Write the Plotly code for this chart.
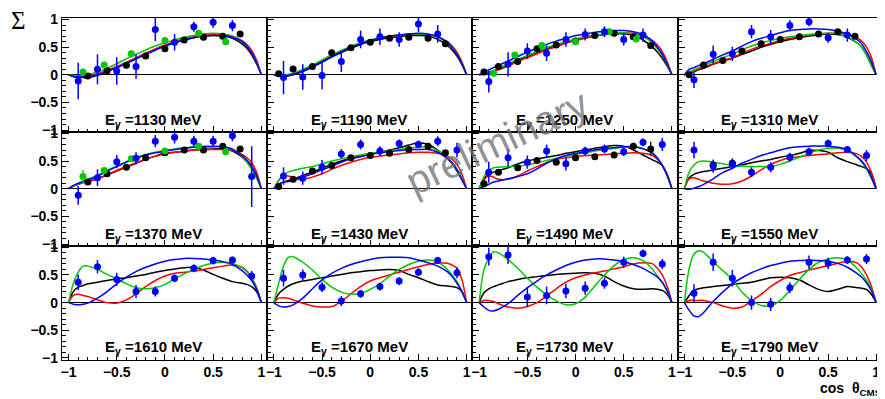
import plotly.graph_objects as go

# ---------------- data ----------------
ENERGIES = [1130, 1190, 1250, 1310, 1370, 1430, 1490, 1550, 1610, 1670, 1730, 1790]

# model curves sampled on a common cos(theta) grid
XC = [-1, -0.95, -0.9, -0.85, -0.8, -0.7, -0.6, -0.5, -0.4, -0.3, -0.2, -0.1, 0,
      0.1, 0.2, 0.3, 0.4, 0.5, 0.6, 0.7, 0.8, 0.85, 0.9, 0.95, 1.0]

CURVE_BLACK = [
    [0, -0.03, -0.05, -0.05, -0.05, -0.01, 0.06, 0.13, 0.21, 0.29, 0.37, 0.45, 0.52, 0.58, 0.63, 0.67, 0.70, 0.71, 0.70, 0.66, 0.56, 0.48, 0.36, 0.20, 0],
    [0, -0.02, -0.03, -0.02, 0.00, 0.06, 0.14, 0.23, 0.32, 0.40, 0.48, 0.55, 0.60, 0.64, 0.67, 0.69, 0.71, 0.71, 0.70, 0.64, 0.53, 0.45, 0.34, 0.19, 0],
    [0, 0.02, 0.04, 0.07, 0.10, 0.18, 0.26, 0.33, 0.40, 0.47, 0.53, 0.58, 0.63, 0.67, 0.70, 0.73, 0.74, 0.74, 0.72, 0.63, 0.50, 0.41, 0.30, 0.16, 0],
    [0, 0.03, 0.06, 0.09, 0.12, 0.19, 0.25, 0.30, 0.37, 0.43, 0.50, 0.55, 0.60, 0.64, 0.67, 0.70, 0.72, 0.74, 0.73, 0.68, 0.58, 0.50, 0.36, 0.18, 0],
    [0, 0.05, 0.08, 0.11, 0.13, 0.18, 0.25, 0.32, 0.39, 0.46, 0.53, 0.59, 0.64, 0.66, 0.68, 0.70, 0.71, 0.72, 0.72, 0.68, 0.57, 0.49, 0.38, 0.22, 0],
    [0, 0.08, 0.12, 0.15, 0.17, 0.24, 0.30, 0.37, 0.44, 0.50, 0.55, 0.59, 0.63, 0.66, 0.70, 0.74, 0.79, 0.83, 0.80, 0.70, 0.55, 0.45, 0.32, 0.16, 0],
    [0, 0.18, 0.26, 0.30, 0.33, 0.38, 0.45, 0.50, 0.54, 0.57, 0.60, 0.64, 0.67, 0.70, 0.73, 0.76, 0.78, 0.77, 0.70, 0.61, 0.52, 0.48, 0.42, 0.25, 0],
    [0, 0.20, 0.26, 0.29, 0.31, 0.34, 0.37, 0.40, 0.43, 0.47, 0.50, 0.53, 0.57, 0.60, 0.64, 0.69, 0.69, 0.66, 0.56, 0.49, 0.43, 0.40, 0.36, 0.28, 0],
    [0, 0.20, 0.28, 0.31, 0.34, 0.37, 0.40, 0.43, 0.45, 0.48, 0.51, 0.55, 0.58, 0.61, 0.63, 0.64, 0.59, 0.51, 0.44, 0.38, 0.35, 0.33, 0.29, 0.20, 0],
    [0, 0.16, 0.24, 0.30, 0.34, 0.39, 0.42, 0.45, 0.48, 0.51, 0.54, 0.56, 0.58, 0.59, 0.60, 0.58, 0.51, 0.45, 0.38, 0.32, 0.30, 0.29, 0.27, 0.20, 0],
    [0, 0.18, 0.25, 0.29, 0.32, 0.38, 0.42, 0.45, 0.47, 0.49, 0.51, 0.52, 0.53, 0.54, 0.53, 0.48, 0.38, 0.30, 0.25, 0.24, 0.25, 0.24, 0.22, 0.15, 0],
    [0, 0.13, 0.22, 0.25, 0.27, 0.29, 0.31, 0.33, 0.35, 0.37, 0.41, 0.45, 0.46, 0.45, 0.41, 0.32, 0.24, 0.20, 0.24, 0.29, 0.27, 0.26, 0.24, 0.15, 0],
]
CURVE_RED = [
    [0, -0.02, -0.03, -0.03, -0.02, 0.02, 0.08, 0.15, 0.23, 0.31, 0.39, 0.47, 0.54, 0.60, 0.65, 0.69, 0.72, 0.73, 0.73, 0.70, 0.62, 0.55, 0.44, 0.27, 0],
    [0, -0.01, -0.02, 0.00, 0.02, 0.08, 0.16, 0.25, 0.34, 0.42, 0.50, 0.57, 0.62, 0.66, 0.69, 0.71, 0.73, 0.74, 0.73, 0.69, 0.60, 0.52, 0.41, 0.24, 0],
    [0, 0.01, 0.03, 0.06, 0.09, 0.16, 0.24, 0.31, 0.38, 0.45, 0.51, 0.57, 0.62, 0.66, 0.70, 0.73, 0.75, 0.76, 0.75, 0.71, 0.62, 0.54, 0.42, 0.24, 0],
    [0, 0.04, 0.07, 0.11, 0.14, 0.20, 0.26, 0.31, 0.39, 0.46, 0.52, 0.57, 0.62, 0.66, 0.69, 0.72, 0.74, 0.75, 0.75, 0.74, 0.67, 0.61, 0.50, 0.32, 0],
    [0, 0.05, 0.08, 0.11, 0.13, 0.18, 0.25, 0.33, 0.40, 0.47, 0.53, 0.59, 0.63, 0.66, 0.68, 0.70, 0.71, 0.71, 0.71, 0.69, 0.62, 0.56, 0.47, 0.30, 0],
    [0, 0.15, 0.23, 0.23, 0.20, 0.17, 0.21, 0.27, 0.35, 0.42, 0.48, 0.53, 0.57, 0.59, 0.61, 0.63, 0.65, 0.66, 0.66, 0.64, 0.59, 0.53, 0.44, 0.27, 0],
    [0, 0.16, 0.23, 0.21, 0.17, 0.17, 0.23, 0.32, 0.40, 0.47, 0.53, 0.56, 0.58, 0.60, 0.61, 0.62, 0.63, 0.64, 0.65, 0.64, 0.60, 0.53, 0.43, 0.27, 0],
    [0, 0.18, 0.20, 0.17, 0.14, 0.10, 0.08, 0.09, 0.14, 0.23, 0.34, 0.44, 0.51, 0.56, 0.58, 0.60, 0.62, 0.63, 0.65, 0.66, 0.63, 0.58, 0.48, 0.30, 0],
    [0, 0.13, 0.15, 0.13, 0.11, 0.05, 0.00, -0.01, 0.05, 0.16, 0.29, 0.40, 0.48, 0.53, 0.55, 0.57, 0.60, 0.63, 0.66, 0.68, 0.64, 0.57, 0.45, 0.28, 0],
    [0, 0.08, 0.09, 0.08, 0.05, -0.01, -0.06, -0.08, -0.07, 0.02, 0.16, 0.29, 0.39, 0.45, 0.50, 0.55, 0.60, 0.65, 0.69, 0.72, 0.71, 0.68, 0.62, 0.42, 0],
    [0, 0.04, 0.04, 0.02, -0.02, -0.08, -0.10, -0.07, 0.00, 0.12, 0.25, 0.37, 0.45, 0.50, 0.54, 0.57, 0.61, 0.65, 0.70, 0.72, 0.70, 0.62, 0.50, 0.30, 0],
    [0, 0.04, 0.04, 0.04, 0.04, 0.00, -0.06, -0.10, -0.08, 0.03, 0.15, 0.29, 0.40, 0.49, 0.54, 0.59, 0.63, 0.67, 0.71, 0.75, 0.72, 0.64, 0.50, 0.30, 0],
]
CURVE_GREEN = [
    [0, -0.01, -0.02, -0.01, 0.00, 0.05, 0.12, 0.20, 0.29, 0.37, 0.45, 0.52, 0.58, 0.63, 0.68, 0.71, 0.74, 0.75, 0.74, 0.70, 0.60, 0.52, 0.40, 0.23, 0],
    [0, -0.01, -0.01, 0.01, 0.03, 0.10, 0.18, 0.27, 0.36, 0.44, 0.52, 0.58, 0.63, 0.67, 0.70, 0.72, 0.74, 0.74, 0.73, 0.68, 0.58, 0.50, 0.38, 0.22, 0],
    [0, 0.02, 0.05, 0.08, 0.12, 0.20, 0.28, 0.35, 0.42, 0.49, 0.55, 0.60, 0.65, 0.69, 0.72, 0.74, 0.76, 0.76, 0.74, 0.69, 0.57, 0.47, 0.35, 0.19, 0],
    [0, 0.05, 0.09, 0.13, 0.17, 0.24, 0.31, 0.37, 0.45, 0.52, 0.58, 0.62, 0.66, 0.69, 0.71, 0.73, 0.74, 0.75, 0.74, 0.69, 0.58, 0.50, 0.36, 0.18, 0],
    [0, 0.05, 0.09, 0.13, 0.17, 0.24, 0.33, 0.41, 0.49, 0.56, 0.62, 0.66, 0.69, 0.72, 0.74, 0.76, 0.77, 0.77, 0.76, 0.72, 0.58, 0.48, 0.35, 0.19, 0],
    [0, 0.15, 0.25, 0.30, 0.33, 0.37, 0.40, 0.45, 0.50, 0.54, 0.58, 0.61, 0.64, 0.66, 0.69, 0.71, 0.74, 0.75, 0.76, 0.69, 0.55, 0.46, 0.34, 0.18, 0],
    [0, 0.22, 0.33, 0.38, 0.39, 0.40, 0.41, 0.43, 0.47, 0.51, 0.55, 0.59, 0.62, 0.65, 0.68, 0.71, 0.73, 0.75, 0.76, 0.73, 0.65, 0.56, 0.42, 0.24, 0],
    [0, 0.30, 0.43, 0.49, 0.50, 0.48, 0.45, 0.42, 0.41, 0.40, 0.40, 0.40, 0.44, 0.50, 0.57, 0.64, 0.70, 0.73, 0.73, 0.69, 0.57, 0.48, 0.36, 0.19, 0],
    [0, 0.35, 0.55, 0.66, 0.66, 0.60, 0.51, 0.43, 0.34, 0.27, 0.25, 0.27, 0.33, 0.43, 0.52, 0.60, 0.67, 0.71, 0.73, 0.71, 0.63, 0.56, 0.44, 0.26, 0],
    [0, 0.35, 0.66, 0.82, 0.83, 0.73, 0.59, 0.42, 0.28, 0.19, 0.15, 0.17, 0.24, 0.34, 0.48, 0.60, 0.69, 0.75, 0.77, 0.74, 0.60, 0.50, 0.38, 0.21, 0],
    [0, 0.60, 0.80, 0.92, 0.90, 0.78, 0.62, 0.44, 0.28, 0.14, 0.03, -0.04, -0.02, 0.10, 0.30, 0.50, 0.67, 0.78, 0.81, 0.76, 0.60, 0.48, 0.36, 0.20, 0],
    [0, 0.62, 0.88, 0.94, 0.91, 0.74, 0.58, 0.42, 0.19, 0.04, -0.05, -0.06, 0.04, 0.22, 0.42, 0.60, 0.73, 0.79, 0.81, 0.77, 0.62, 0.52, 0.40, 0.25, 0],
]
CURVE_BLUE = [
    [0, -0.03, -0.04, -0.04, -0.03, 0.00, 0.06, 0.13, 0.21, 0.29, 0.37, 0.45, 0.52, 0.58, 0.63, 0.67, 0.70, 0.71, 0.71, 0.68, 0.60, 0.52, 0.40, 0.22, 0],
    [0, -0.02, -0.02, -0.01, 0.01, 0.07, 0.15, 0.24, 0.33, 0.42, 0.50, 0.56, 0.62, 0.66, 0.70, 0.72, 0.74, 0.75, 0.74, 0.69, 0.58, 0.49, 0.37, 0.21, 0],
    [0, 0.05, 0.09, 0.13, 0.17, 0.25, 0.33, 0.41, 0.48, 0.55, 0.61, 0.66, 0.71, 0.74, 0.77, 0.79, 0.80, 0.80, 0.78, 0.73, 0.60, 0.50, 0.37, 0.20, 0],
    [0, 0.10, 0.13, 0.17, 0.20, 0.28, 0.36, 0.43, 0.52, 0.60, 0.66, 0.71, 0.76, 0.80, 0.82, 0.83, 0.83, 0.82, 0.79, 0.74, 0.64, 0.56, 0.42, 0.24, 0],
    [0, 0.06, 0.10, 0.13, 0.16, 0.23, 0.32, 0.40, 0.48, 0.55, 0.61, 0.65, 0.68, 0.71, 0.73, 0.75, 0.76, 0.76, 0.76, 0.71, 0.60, 0.52, 0.41, 0.24, 0],
    [0, 0.08, 0.12, 0.13, 0.15, 0.21, 0.27, 0.34, 0.41, 0.48, 0.54, 0.58, 0.62, 0.65, 0.67, 0.69, 0.71, 0.71, 0.71, 0.66, 0.55, 0.47, 0.35, 0.18, 0],
    [0, 0.04, 0.08, 0.12, 0.14, 0.18, 0.22, 0.27, 0.36, 0.46, 0.54, 0.60, 0.64, 0.67, 0.70, 0.73, 0.74, 0.76, 0.76, 0.72, 0.64, 0.55, 0.42, 0.24, 0],
    [0, -0.01, 0.01, 0.04, 0.08, 0.18, 0.29, 0.37, 0.46, 0.53, 0.60, 0.65, 0.70, 0.74, 0.76, 0.77, 0.77, 0.77, 0.75, 0.71, 0.58, 0.50, 0.38, 0.21, 0],
    [0, -0.03, -0.04, -0.03, -0.01, 0.08, 0.20, 0.34, 0.46, 0.56, 0.64, 0.70, 0.75, 0.78, 0.80, 0.80, 0.79, 0.77, 0.74, 0.69, 0.58, 0.50, 0.40, 0.24, 0],
    [0, -0.06, -0.08, -0.07, -0.04, 0.08, 0.25, 0.41, 0.53, 0.62, 0.69, 0.74, 0.78, 0.81, 0.82, 0.82, 0.81, 0.77, 0.72, 0.66, 0.56, 0.47, 0.35, 0.20, 0],
    [0, -0.08, -0.14, -0.15, -0.12, -0.02, 0.13, 0.27, 0.39, 0.50, 0.59, 0.67, 0.73, 0.77, 0.79, 0.79, 0.77, 0.74, 0.69, 0.62, 0.52, 0.46, 0.37, 0.22, 0],
    [0, -0.14, -0.24, -0.25, -0.18, 0.02, 0.19, 0.34, 0.45, 0.54, 0.61, 0.67, 0.71, 0.75, 0.76, 0.77, 0.76, 0.75, 0.71, 0.64, 0.53, 0.46, 0.36, 0.22, 0],
]

# measured points (blue, with errors)
BX9 = [-0.9, -0.7, -0.5, -0.3, -0.1, 0.1, 0.3, 0.5, 0.7]
BX10 = [-0.9, -0.7, -0.5, -0.3, -0.1, 0.1, 0.3, 0.5, 0.7, 0.9]
BLUE_X = [BX9, BX9, BX9, BX9] + [BX10] * 8
BLUE_Y = [
    [-0.11, 0.10, 0.07, 0.15, 0.82, 0.59, 0.87, 0.95, 0.89],
    [-0.05, -0.04, -0.01, 0.24, 0.64, 0.69, 0.64, 0.92, 0.74],
    [-0.12, 0.19, 0.43, 0.39, 0.64, 0.73, 0.78, 0.64, 0.72],
    [-0.09, 0.37, 0.38, 0.78, 0.69, 0.89, 0.96, 0.67, 0.72],
    [-0.12, 0.20, 0.49, 0.55, 0.86, 0.93, 0.86, 0.86, 0.96, 0.22],
    [0.23, 0.19, 0.39, 0.63, 0.80, 0.68, 0.82, 0.80, 0.86, 0.70],
    [0.30, 0.56, 0.48, 0.68, 0.45, 0.68, 0.72, 0.67, 0.84, 0.80],
    [0.70, 0.41, 0.45, 0.30, 0.39, 0.57, 0.67, 0.82, 0.71, 0.60],
    [0.37, 0.65, 0.42, 0.20, 0.20, 0.44, 0.62, 0.76, 0.77, 0.48],
    [0.44, 0.50, 0.28, 0.03, 0.16, 0.29, 0.39, 0.55, 0.76, 0.54],
    [0.83, 0.86, 0.10, 0.13, 0.21, 0.26, 0.35, 0.73, 0.89, 0.70],
    [0.17, 0.73, 0.44, 0.00, -0.03, 0.27, 0.73, 0.71, 0.77, 0.79],
]
BLUE_E = [
    [0.33, 0.27, 0.25, 0.22, 0.21, 0.15, 0.09, 0.10, 0.10],
    [0.30, 0.23, 0.25, 0.19, 0.16, 0.15, 0.13, 0.15, 0.16],
    [0.20, 0.22, 0.14, 0.14, 0.13, 0.11, 0.10, 0.11, 0.12],
    [0.15, 0.16, 0.13, 0.12, 0.12, 0.10, 0.08, 0.09, 0.12],
    [0.17, 0.15, 0.12, 0.11, 0.11, 0.11, 0.10, 0.10, 0.10, 0.55],
    [0.16, 0.12, 0.13, 0.09, 0.09, 0.09, 0.07, 0.07, 0.09, 0.13],
    [0.19, 0.16, 0.12, 0.12, 0.12, 0.08, 0.08, 0.08, 0.07, 0.12],
    [0.15, 0.12, 0.10, 0.09, 0.09, 0.08, 0.07, 0.07, 0.06, 0.10],
    [0.14, 0.12, 0.12, 0.12, 0.09, 0.07, 0.07, 0.07, 0.06, 0.09],
    [0.15, 0.10, 0.09, 0.09, 0.07, 0.07, 0.07, 0.07, 0.06, 0.10],
    [0.16, 0.16, 0.18, 0.16, 0.13, 0.12, 0.10, 0.10, 0.07, 0.09],
    [0.16, 0.16, 0.15, 0.13, 0.12, 0.10, 0.12, 0.10, 0.07, 0.09],
]

# previous data (black points)
KX10 = [-0.95, -0.8, -0.6, -0.4, -0.2, 0.0, 0.2, 0.4, 0.6, 0.78]
KX9 = [-0.8, -0.6, -0.4, -0.2, 0.0, 0.2, 0.4, 0.6, 0.78]
BLACK_X = [KX9, KX10, KX10, KX10, KX9, KX10, KX10, [-0.7, -0.5], [], [], [], []]
BLACK_Y = [
    [-0.02, 0.075, 0.175, 0.34, 0.47, 0.63, 0.68, 0.70, 0.74],
    [0.02, 0.105, 0.15, 0.40, 0.49, 0.59, 0.66, 0.68, 0.66, 0.56],
    [0.05, 0.15, 0.24, 0.47, 0.54, 0.61, 0.71, 0.75, 0.69, 0.53],
    [0.00, 0.18, 0.26, 0.43, 0.56, 0.64, 0.69, 0.74, 0.78, 0.70],
    [0.12, 0.27, 0.39, 0.56, 0.65, 0.70, 0.70, 0.77, 0.72],
    [0.04, 0.17, 0.32, 0.42, 0.56, 0.60, 0.64, 0.71, 0.77, 0.65],
    [0.09, 0.30, 0.38, 0.51, 0.48, 0.56, 0.58, 0.61, 0.77, 0.72],
    [0.43, 0.46],
    [], [], [], [],
]
BLACK_E = [
    [0.03] * 9,
    [0.03] * 10,
    [0.03] * 10,
    [0.03] * 10,
    [0.03] * 9,
    [0.03] * 10,
    [0.03, 0.03, 0.03, 0.03, 0.03, 0.03, 0.03, 0.03, 0.06, 0.13],
    [0.03, 0.03],
    [], [], [], [],
]

# previous data (green points)
GX6 = [-0.85, -0.63, -0.35, 0.0, 0.35, 0.63]
GREEN_X = [GX6, [], GX6, [], GX6, [], [], [], [], [], [], []]
GREEN_Y = [
    [0.05, 0.18, 0.38, 0.62, 0.75, 0.60],
    [],
    [0.03, 0.36, 0.53, 0.60, 0.78, 0.65],
    [],
    [0.22, 0.33, 0.54, 0.68, 0.77, 0.67],
    [], [], [], [], [], [], [],
]
GREEN_E = [
    [0.05, 0.05, 0.05, 0.05, 0.05, 0.06],
    [],
    [0.05, 0.05, 0.05, 0.05, 0.05, 0.06],
    [],
    [0.12, 0.06, 0.05, 0.05, 0.05, 0.06],
    [], [], [], [], [], [], [],
]

# ---------------- layout geometry ----------------
# the page body adds an 8 px margin, so the figure is drawn 8 px smaller and all
# reference pixel positions are shifted by that offset
OFF = 8
W, H = 885 - OFF, 399 - OFF
COL_PX = [(61, 267), (267, 473), (473, 679), (679, 880)]
COL_RANGE = [[-1.07, 1.06], [-1.07, 1.06], [-1.07, 1.06], [-1.07, 1.02]]
ROW_PX = [(12, 129.5), (129.5, 247), (247, 364.5)]
Y_RANGE = [-1.03, 1.03]


def px_x(p):
    return (p - OFF) / W


def px_y(p):
    return 1 - (p - OFF) / H


C_BLACK = "#000000"
C_RED = "#ff0000"
C_GREEN = "#00c800"
C_BLUE = "#0000ff"
FONT = "Liberation Sans"

fig = go.Figure()
annotations = []
layout = {}

for i in range(12):
    r, c = divmod(i, 4)
    n = i + 1
    xs = "x" if n == 1 else f"x{n}"
    ys = "y" if n == 1 else f"y{n}"
    xk = "xaxis" if n == 1 else f"xaxis{n}"
    yk = "yaxis" if n == 1 else f"yaxis{n}"

    for ycurve, col in ((CURVE_BLACK, C_BLACK), (CURVE_RED, C_RED),
                        (CURVE_GREEN, C_GREEN), (CURVE_BLUE, C_BLUE)):
        fig.add_trace(go.Scatter(
            x=XC, y=ycurve[i], mode="lines", xaxis=xs, yaxis=ys,
            line=dict(color=col, width=1.5, shape="spline", smoothing=0.9),
            showlegend=False, hoverinfo="skip"))

    if BLACK_X[i]:
        fig.add_trace(go.Scatter(
            x=BLACK_X[i], y=BLACK_Y[i], mode="markers", xaxis=xs, yaxis=ys,
            marker=dict(color=C_BLACK, size=7),
            error_y=dict(type="data", array=BLACK_E[i], color=C_BLACK, thickness=1.3, width=0),
            showlegend=False))
    if GREEN_X[i]:
        fig.add_trace(go.Scatter(
            x=GREEN_X[i], y=GREEN_Y[i], mode="markers", xaxis=xs, yaxis=ys,
            marker=dict(color=C_GREEN, size=7),
            error_y=dict(type="data", array=GREEN_E[i], color=C_GREEN, thickness=1.3, width=0),
            showlegend=False))
    fig.add_trace(go.Scatter(
        x=BLUE_X[i], y=BLUE_Y[i], mode="markers", xaxis=xs, yaxis=ys,
        marker=dict(color=C_BLUE, size=7),
        error_y=dict(type="data", array=BLUE_E[i], color=C_BLUE, thickness=1.5, width=0),
        showlegend=False))

    x0, x1 = COL_PX[c]
    y0, y1 = ROW_PX[r]
    tickfont = dict(family=FONT, size=14, color="black", weight="bold")
    layout[xk] = dict(
        domain=[px_x(x0), px_x(x1)], range=COL_RANGE[c], anchor=ys,
        showline=True, mirror=True, linecolor="black", linewidth=1,
        ticks="inside", ticklen=6, tickwidth=1, tickcolor="black",
        dtick=0.5, tick0=0, showgrid=False, zeroline=False,
        minor=dict(dtick=0.1, ticks="inside", ticklen=3, tickcolor="black"),
        showticklabels=(r == 2), tickfont=tickfont)
    layout[yk] = dict(
        domain=[px_y(y1), px_y(y0)], range=Y_RANGE, anchor=xs,
        showline=True, mirror=True, linecolor="black", linewidth=1,
        ticks="inside", ticklen=7, tickwidth=1, tickcolor="black",
        dtick=0.5, tick0=0, showgrid=False,
        zeroline=True, zerolinecolor="black", zerolinewidth=1,
        minor=dict(dtick=0.1, ticks="inside", ticklen=4, tickcolor="black"),
        showticklabels=(c == 0), tickfont=tickfont)

    annotations.append(dict(
        xref=xs, yref=ys, x=-0.64, y=-0.82, xanchor="left", yanchor="middle",
        text=f"<b>E<sub>γ</sub> ={ENERGIES[i]} MeV</b>", showarrow=False,
        font=dict(family=FONT, size=15, color="black")))

annotations.append(dict(
    xref="paper", yref="paper", x=px_x(17.5), y=px_y(15), xanchor="center", yanchor="middle",
    text="Σ", showarrow=False, font=dict(family="Liberation Serif", size=25, color="black")))
annotations.append(dict(
    xref="paper", yref="paper", x=1.0, y=0.0, xanchor="right", yanchor="bottom",
    text="<b>cos  θ<sub>CMS</sub></b>", showarrow=False, borderpad=0, yshift=-6,
    font=dict(family=FONT, size=14, color="black")))
annotations.append(dict(
    xref="paper", yref="paper", x=px_x(498), y=px_y(140), xanchor="center", yanchor="middle",
    text="preliminary", showarrow=False, textangle=-25,
    font=dict(family=FONT, size=40, color="rgba(110,110,110,0.75)")))

fig.update_layout(
    width=W, height=H, margin=dict(l=0, r=0, t=0, b=0),
    paper_bgcolor="white", plot_bgcolor="white",
    annotations=annotations, showlegend=False, **layout)

fig.write_html("out.html")
